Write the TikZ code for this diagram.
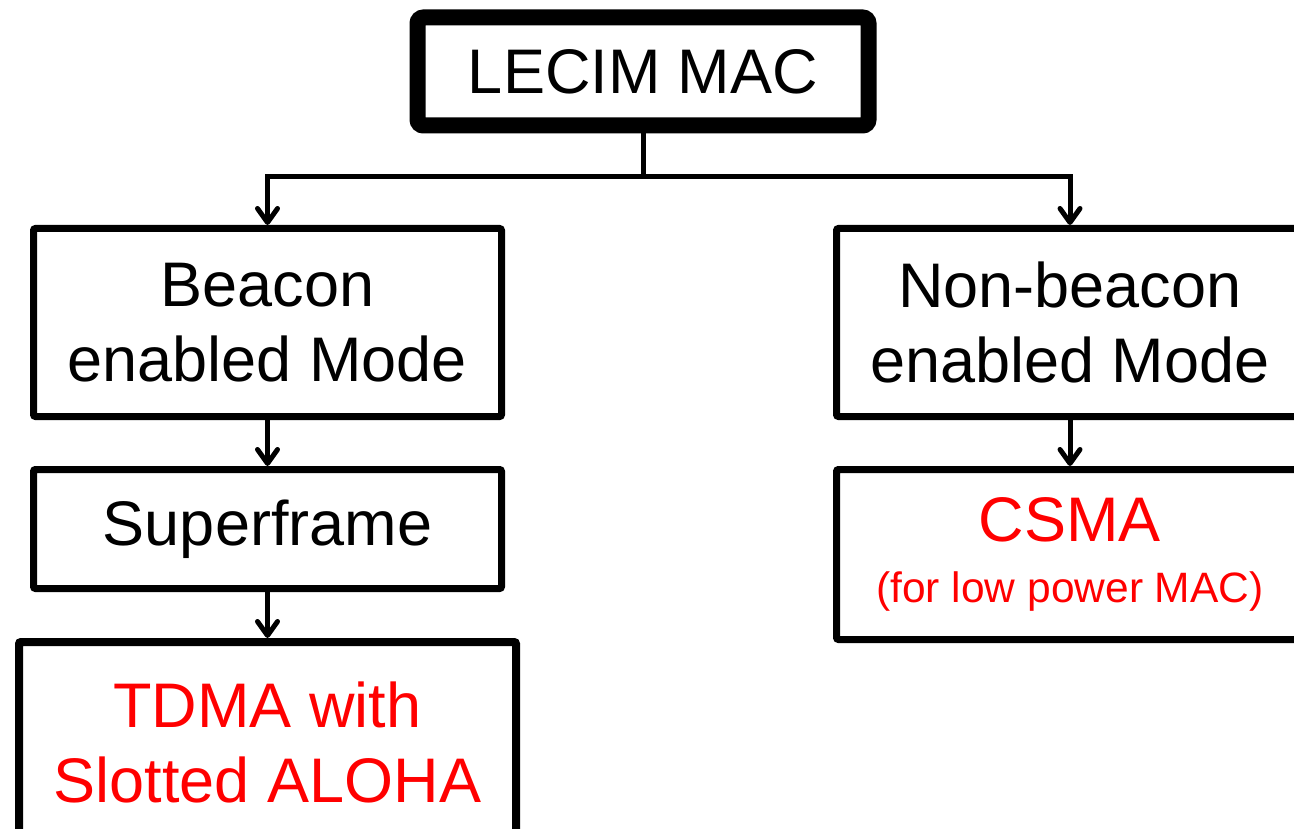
\documentclass[tikz,border=0pt]{standalone}
\usepackage{fontspec}
\setmainfont{Liberation Sans}
\usetikzlibrary{arrows.meta,shadows}
\definecolor{hot}{RGB}{255,0,0}
\begin{document}
\begin{tikzpicture}[x=1pt,y=-1pt,
  box/.style={draw=black, line width=7pt, fill=white, rounded corners=2pt,
    inner sep=0pt, align=center, anchor=center,
    font=\fontsize{63}{75}\selectfont,
    drop shadow={shadow xshift=2pt, shadow yshift=-3pt, opacity=0.25, fill=black}},
  conn/.style={line width=5pt, draw=black},
  arr/.style={conn, -{Straight Barb[length=14pt, width=20pt, line width=5pt, round]}}
]
\useasboundingbox (0,0) rectangle (1294,829);
\clip (0,0) rectangle (1294,829);
\fill[white] (0,0) rectangle (1294,829);

\node[box, line width=16pt, rounded corners=6pt, minimum width=451pt, minimum height=108pt] (top) at (643,71.5) {LECIM MAC};

\node[box, minimum width=468pt, minimum height=188pt] (beacon) at (267.5,322.5) {Beacon\\enabled Mode};
\node[box, minimum width=468pt, minimum height=119pt] (super) at (267.5,529) {Superframe};
\node[box, line width=8pt, minimum width=497pt, minimum height=200pt, text=hot] (tdma) at (267.5,742) {TDMA with\\Slotted ALOHA};

\node[box, minimum width=467pt, minimum height=188pt] (nonb) at (1070,322.5) {Non-beacon\\enabled Mode};
\node[box, minimum width=467pt, minimum height=170pt, text=hot] (csma) at (1070,554.5) {CSMA\\[-14pt]{\fontsize{42.5}{50}\selectfont (for low power MAC)}};

\coordinate (j) at (643,177);
\draw[conn] (top.south) -- (j);
\draw[arr] (j) -| (beacon.north);
\draw[arr] (j) -| (nonb.north);
\draw[arr] (beacon.south) -- (super.north);
\draw[arr] (super.south) -- (tdma.north);
\draw[arr] (nonb.south) -- (csma.north);
\end{tikzpicture}
\end{document}
